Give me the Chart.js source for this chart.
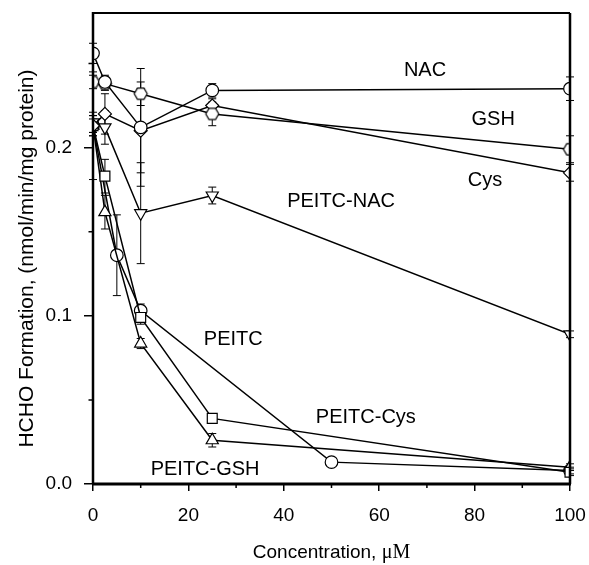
<!DOCTYPE html>
<html><head><meta charset="utf-8">
<script src="https://cdn.jsdelivr.net/npm/chart.js@4/dist/chart.umd.min.js"></script>
<style>html,body{margin:0;padding:0;background:#fff}</style>
</head><body>
<canvas id="c" width="589" height="565"></canvas>
<script>
// ---- data ----
const xNAC = [0, 2.5, 10, 25, 100];
const yNAC = [0.256, 0.239, 0.212, 0.234, 0.235];
const eNAC = [0.006, 0.004, 0.035, 0.004, 0.007];

const xGSH = [0, 2.5, 10, 25, 100];
const yGSH = [0.239, 0.238, 0.232, 0.220, 0.199];
const eGSH = [0.004, 0.004, 0.007, 0.007, 0.008];

const xCys = [0, 2.5, 10, 25, 100];
const yCys = [0.213, 0.220, 0.210, 0.225, 0.185];
const eCys = [0.004, 0.012, 0.025, 0.004, 0.005];

const xPEITC = [0, 5, 10, 50, 100];
const yPEITC = [0.213, 0.136, 0.103, 0.013, 0.008];
const ePEITC = [0.032, 0.024, 0.004, 0.002, 0.002];

const xPNAC = [0, 2.5, 10, 25, 100];
const yPNAC = [0.215, 0.212, 0.161, 0.1715, 0.089];
const ePNAC = [0.006, 0.010, 0.030, 0.005, 0.002];

const xPCys = [0, 2.5, 10, 25, 100];
const yPCys = [0.213, 0.183, 0.099, 0.039, 0.007];
const ePCys = [0.006, 0.010, 0.004, 0.002, 0.002];

const xPGSH = [0, 2.5, 10, 25, 100];
const yPGSH = [0.213, 0.1616, 0.0835, 0.026, 0.010];
const ePGSH = [0.006, 0.010, 0.003, 0.004, 0.002];

const xTickLabels = [0, 20, 40, 60, 80, 100];
const xMinorTicks = [10, 30, 50, 70, 90];
const yTickLabels = [0.0, 0.1, 0.2];
const yMinorTicks = [0.05, 0.15, 0.25];

const seriesNames = ['NAC', 'GSH', 'Cys', 'PEITC', 'PEITC-NAC', 'PEITC-Cys', 'PEITC-GSH'];
// annotation text placed in data coordinates
const noteText = ['NAC', 'GSH', 'Cys', 'PEITC-NAC', 'PEITC', 'PEITC-Cys', 'PEITC-GSH'];
const noteX = [69.6, 83.9, 82.2, 52.0, 29.4, 57.2, 23.5];
const noteY = [0.246, 0.2164, 0.1807, 0.1677, 0.0862, 0.0398, 0.0089];

const yTitle = 'HCHO Formation, (nmol/min/mg protein)';

// ---- marker helpers ----
function hexMarker(r) {
  const c = document.createElement('canvas');
  const s = Math.ceil(r * 2 + 4);
  c.width = s; c.height = s;
  const g = c.getContext('2d');
  g.beginPath();
  for (let i = 0; i < 6; i++) {
    const a = Math.PI / 3 * i;
    const px = s / 2 + r * Math.cos(a), py = s / 2 + r * Math.sin(a);
    if (i === 0) g.moveTo(px, py); else g.lineTo(px, py);
  }
  g.closePath();
  g.fillStyle = '#fff'; g.fill();
  g.lineWidth = 1.2; g.strokeStyle = '#000'; g.stroke();
  return c;
}

function pts(xs, ys) { return xs.map((x, i) => ({ x: x, y: ys[i] })); }

function ds(label, xs, ys, errs, style, radius, rot, order) {
  return {
    label: label,
    data: pts(xs, ys),
    errs: errs,
    order: order || 0,
    borderColor: '#000',
    borderWidth: 1.5,
    backgroundColor: '#fff',
    pointBackgroundColor: '#fff',
    pointBorderColor: '#000',
    pointBorderWidth: 1.2,
    pointStyle: style,
    pointRadius: radius,
    pointRotation: rot || 0,
    tension: 0,
    fill: false
  };
}

const datasets = [
  ds(seriesNames[0], xNAC, yNAC, eNAC, 'circle', 6.3),
  ds(seriesNames[1], xGSH, yGSH, eGSH, hexMarker(6.5), 6.5),
  ds(seriesNames[2], xCys, yCys, eCys, 'rectRot', 6.5),
  ds(seriesNames[3], xPEITC, yPEITC, ePEITC, 'circle', 6.3, 0, 1),
  ds(seriesNames[4], xPNAC, yPNAC, ePNAC, 'triangle', 7, 180),
  ds(seriesNames[5], xPCys, yPCys, ePCys, 'rect', 7),
  ds(seriesNames[6], xPGSH, yPGSH, ePGSH, 'triangle', 7)
];

const FONT = "'Liberation Sans', Arial, sans-serif";

const extras = {
  id: 'extras',
  beforeDatasetsDraw(chart) {
    const ctx = chart.ctx, xs = chart.scales.x, ys = chart.scales.y;
    ctx.save();
    ctx.strokeStyle = '#000';
    ctx.lineWidth = 1;
    chart.data.datasets.forEach(d => {
      d.data.forEach((p, i) => {
        const e = d.errs[i];
        if (!e) return;
        const px = xs.getPixelForValue(p.x);
        const y1 = ys.getPixelForValue(p.y + e);
        const y2 = ys.getPixelForValue(p.y - e);
        ctx.beginPath();
        ctx.moveTo(px, y1); ctx.lineTo(px, y2);
        ctx.moveTo(px - 4, y1); ctx.lineTo(px + 4, y1);
        ctx.moveTo(px - 4, y2); ctx.lineTo(px + 4, y2);
        ctx.stroke();
      });
    });
    ctx.restore();
  },
  afterDraw(chart) {
    const ctx = chart.ctx, a = chart.chartArea, xs = chart.scales.x, ys = chart.scales.y;
    ctx.save();
    ctx.strokeStyle = '#000';
    // minor ticks
    ctx.lineWidth = 1.5;
    ctx.beginPath();
    xMinorTicks.forEach(v => { const p = xs.getPixelForValue(v); ctx.moveTo(p, a.bottom); ctx.lineTo(p, a.bottom + 4); });
    yMinorTicks.forEach(v => { const p = ys.getPixelForValue(v); ctx.moveTo(a.left, p); ctx.lineTo(a.left - 4.5, p); });
    ctx.stroke();
    // frame
    ctx.lineWidth = 2; ctx.beginPath(); ctx.moveTo(a.left, a.top); ctx.lineTo(a.right, a.top); ctx.stroke();
    ctx.lineWidth = 2.5; ctx.beginPath(); ctx.moveTo(a.right, a.top); ctx.lineTo(a.right, a.bottom); ctx.stroke();
    ctx.lineWidth = 2.5; ctx.beginPath(); ctx.moveTo(a.left, a.top - 1); ctx.lineTo(a.left, a.bottom); ctx.stroke();
    ctx.lineWidth = 3; ctx.beginPath(); ctx.moveTo(a.left, a.bottom); ctx.lineTo(a.right + 1, a.bottom); ctx.stroke();
    // annotations
    ctx.fillStyle = '#000';
    ctx.font = '20px ' + FONT;
    ctx.textAlign = 'center';
    ctx.textBaseline = 'middle';
    noteText.forEach((t, i) => {
      ctx.fillText(t, xs.getPixelForValue(noteX[i]), ys.getPixelForValue(noteY[i]));
    });
    // y title (rotated)
    ctx.save();
    ctx.translate(a.left - 66, (a.top + a.bottom) / 2 + 10);
    ctx.rotate(-Math.PI / 2);
    ctx.font = '21px ' + FONT;
    ctx.fillText(yTitle, 0, 0);
    ctx.restore();
    // x title with serif unit
    const part1 = 'Concentration, ', part2 = '\u03BCM';
    ctx.font = '19px ' + FONT;
    const w1 = ctx.measureText(part1).width;
    ctx.font = "20px 'Liberation Serif', 'Times New Roman', serif";
    const w2 = ctx.measureText(part2).width;
    const cx = (a.left + a.right) / 2;
    const sx = cx - (w1 + w2) / 2;
    const ty = a.bottom + 69;
    ctx.textAlign = 'left';
    ctx.font = '19px ' + FONT;
    ctx.fillText(part1, sx, ty);
    ctx.font = "20px 'Liberation Serif', 'Times New Roman', serif";
    ctx.fillText(part2, sx + w1, ty);
    ctx.restore();
  }
};

function noPad(s) { s.paddingLeft = 0; s.paddingRight = 0; s.paddingTop = 0; s.paddingBottom = 0; }

new Chart(document.getElementById('c'), {
  type: 'line',
  data: { datasets: datasets },
  options: {
    responsive: false,
    animation: false,
    layout: { padding: { top: 13, right: 19, left: 0, bottom: 0 } },
    plugins: { legend: { display: false }, tooltip: { enabled: false } },
    scales: {
      x: {
        type: 'linear', min: 0, max: 100,
        border: { display: false },
        grid: { drawOnChartArea: false, drawTicks: true, tickLength: 7, color: '#000', lineWidth: 1.5 },
        ticks: {
          stepSize: 20, color: '#000', padding: 13, maxRotation: 0, autoSkip: false,
          font: { family: FONT, size: 19 },
          callback: v => xTickLabels.includes(v) ? String(v) : ''
        },
        afterFit: s => { s.height = 81; noPad(s); }
      },
      y: {
        type: 'linear', min: 0, max: 0.28,
        border: { display: false },
        grid: { drawOnChartArea: false, drawTicks: true, tickLength: 9, color: '#000', lineWidth: 1.5 },
        afterBuildTicks: s => { s.ticks = s.ticks.filter(t => t.value <= 0.2001); },
        ticks: {
          stepSize: 0.1, color: '#000', padding: 12, autoSkip: false,
          font: { family: FONT, size: 19 },
          callback: v => yTickLabels.some(t => Math.abs(t - v) < 1e-6) ? v.toFixed(1) : ''
        },
        afterFit: s => { s.width = 93; noPad(s); }
      }
    }
  },
  plugins: [extras]
});
</script>
</body></html>
